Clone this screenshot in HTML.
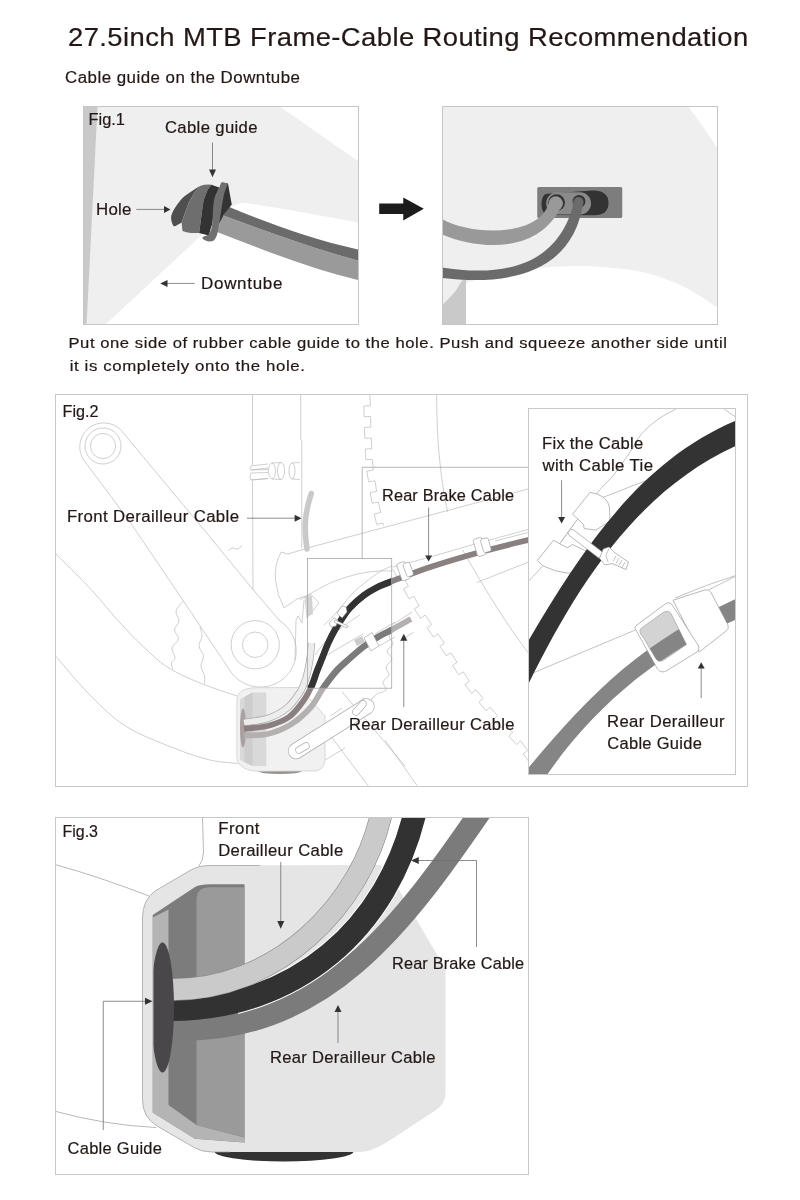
<!DOCTYPE html>
<html><head><meta charset="utf-8">
<style>
html,body{margin:0;padding:0;background:#fff;width:800px;height:1200px;overflow:hidden}
svg{display:block}
text{font-family:"Liberation Sans",sans-serif;fill:#231815;stroke:#231815;stroke-width:0.2px}
svg{will-change:transform}
</style></head><body>
<svg width="800" height="1200" viewBox="0 0 800 1200">

<text transform="translate(68,45.6) scale(1.0277,1)" font-size="26.7" textLength="661.86" lengthAdjust="spacing">27.5inch MTB Frame-Cable Routing Recommendation</text>
<text transform="translate(65,82.5) scale(1.0558,1)" font-size="16" textLength="222.57" lengthAdjust="spacing">Cable guide on the Downtube</text>
<rect x="84" y="107" width="274" height="217" fill="#efefef"/>
<path d="M84,107 L97.5,107 L86.6,324 L84,324 Z" fill="#c9c9c9"/>
<path d="M280.4,107 L358,107 L358,160.9 Z" fill="#fff"/>
<path d="M106,324 L232,207 Q238,202.5 246,203 L290,210 L358,222.5 L358,324 Z" fill="#fff"/>
<path d="M222.0,215.0 C267.1,231.8 311.3,248.3 358.0,260.5 L358.0,280.0 C309.3,268.4 263.5,250.0 217.0,232.0 Z" fill="#9a9a9a"/>
<path d="M228.0,206.5 C270.0,224.1 313.4,239.6 358.0,249.5 L358.0,260.5 C311.3,248.3 267.1,231.8 222.0,215.0 Z" fill="#6b6b6b"/>
<path d="M221,183 L228,183.4 Q230,195 231.8,204.5 L229,208 L224,214 L218,226 L212,228 Z" fill="#333"/>
<path d="M200.00,186.00 C198.68,186.82 195.02,188.92 192.10,190.90 C189.18,192.88 185.42,194.98 182.50,197.90 C179.58,200.82 176.50,205.20 174.60,208.40 C172.70,211.60 171.38,214.33 171.10,217.10 C170.82,219.87 172.17,223.53 172.90,225.00 C173.63,226.47 174.05,226.33 175.50,225.90 C176.95,225.47 180.58,222.98 181.60,222.40  L185.1,212.7 L188.6,203.1 L193.9,193.5 Z" fill="#4f4f4f"/>
<path d="M200,186 Q205,184.3 211.4,184.7 Q207,190 206.1,193.5 Q203,200 202.6,206.6 L200.9,219.7 L199.1,232.9 L191.2,232.9 Q186,232.5 182.5,231.1 L181.6,222.4 L185.1,212.7 L188.6,203.1 L193.9,193.5 Z" fill="#6e6e6e"/>
<path d="M211.4,184.7 L219.2,187.4 L215.7,197.9 L214,211 L212.2,224.1 L208.7,235.5 L199.1,232.9 L200.9,219.7 L202.6,206.6 Q203,200 206.1,193.5 Q207,190 211.4,184.7 Z" fill="#333"/>
<path d="M221.9,182.1 L228,183.4 Q226,188 224,194 L221.5,208 L219.5,222 Q218.5,229 217.5,233 Q216,239 213,241 Q209,242 205.5,240.5 Q202,239 202.5,237 Q205,236 208.5,234.75 Q211.5,231 212.25,225 L213,210 Q213.5,200 215.5,195 L219.2,187.4 Z" fill="#707070"/>
<path d="M212.5,142.5 L212.5,170" stroke="#6e6e6e" stroke-width="0.8" fill="none"/><path d="M209,169.6 L216,169.6 L212.5,177.2 Z" fill="#333"/>
<path d="M136.25,209.4 L165,209.4" stroke="#6e6e6e" stroke-width="0.8" fill="none"/><path d="M164,205.9 L164,212.9 L170.5,209.4 Z" fill="#333"/>
<path d="M194.6,283.4 L167,283.4" stroke="#6e6e6e" stroke-width="0.8" fill="none"/><path d="M167.5,279.9 L167.5,286.9 L160.2,283.4 Z" fill="#333"/>
<rect x="83.5" y="106.5" width="275" height="218" fill="none" stroke="#c6c6c6" stroke-width="1"/>
<text transform="translate(88.5,125.25) scale(0.9659,1)" font-size="17" textLength="37.79" lengthAdjust="spacing">Fig.1</text>
<text transform="translate(165,132.75) scale(1.0408,1)" font-size="16" textLength="88.88" lengthAdjust="spacing">Cable guide</text>
<text transform="translate(96,215.4) scale(1.0228,1)" font-size="16.5" textLength="34.71" lengthAdjust="spacing">Hole</text>
<text transform="translate(201,288.6) scale(1.0636,1)" font-size="16" textLength="76.63" lengthAdjust="spacing">Downtube</text>
<rect x="443" y="107" width="274" height="217" fill="#efefef"/>
<path d="M688.75,107 Q703,126 717,147.5 L717,107 Z" fill="#fff"/>
<path d="M466,324 L466,283 C470.00,281.83 481.21,278.00 490.00,276.00 C498.79,274.00 509.58,272.42 518.75,271.00 C527.92,269.58 534.79,268.35 545.00,267.50 C555.21,266.65 567.50,265.72 580.00,265.90 C592.50,266.08 608.33,267.25 620.00,268.60 C631.67,269.95 640.00,271.27 650.00,274.00 C660.00,276.73 671.67,281.33 680.00,285.00 C688.33,288.67 693.83,292.25 700.00,296.00 C706.17,299.75 713.33,305.00 717.00,307.50 C720.67,310.00 721.17,310.42 722.00,311.00 L722,324 Z" fill="#fff"/>
<path d="M443,304.25 Q452,296 457,289 Q460,283 463,279.75 L466,279.75 L466,324 L443,324 Z" fill="#c9c9c9"/>
<rect x="537.25" y="186.9" width="85" height="31.2" rx="1.5" fill="#7d7d7d"/>
<path d="M547,193.8 L592,190.4 Q608.5,190 608.5,203 Q608.5,215.2 594,215.2 L549,215 Q541.5,214.5 541.5,204 Q541.8,194.3 547,193.8 Z" fill="#333"/>
<rect x="546.2" y="192.2" width="44.8" height="22.3" rx="11" fill="#8a8a8a"/>
<circle cx="556.6" cy="202.6" r="8.4" fill="#333"/>
<circle cx="579" cy="201.4" r="6.4" fill="#333"/>
<path d="M574.0,202.0 C558.0,268.3 500.1,276.7 442.0,267.5 L442.0,278.0 C503.3,285.3 572.6,276.5 583.3,202.0 Z" fill="#6b6b6b"/>
<circle cx="578.4" cy="202.2" r="5.1" fill="#6b6b6b"/>
<path d="M549.0,203.0 C538.1,238.3 469.1,234.8 442.0,219.0 L442.0,234.5 C484.1,251.9 542.7,252.0 562.6,203.0 Z" fill="#999"/>
<circle cx="555.8" cy="203.4" r="7.1" fill="#999"/>
<rect x="442.5" y="106.5" width="275" height="218" fill="none" stroke="#c6c6c6" stroke-width="1"/>
<path d="M379.2,203.6 L403.25,203.6 L403.25,197.4 L423.8,208.8 L403.25,220.6 L403.25,214.1 L379.2,214.1 Z" fill="#1c1c1c"/>
<text transform="translate(68.5,348) scale(1.0728,1)" font-size="15.5" textLength="613.80" lengthAdjust="spacing">Put one side of rubber cable guide to the hole. Push and squeeze another side until</text>
<text transform="translate(69.7,370.6) scale(1.0850,1)" font-size="15.5" textLength="216.87" lengthAdjust="spacing">it is completely onto the hole.</text>
<clipPath id="c2"><rect x="56" y="395" width="472" height="391"/></clipPath>
<g clip-path="url(#c2)">
<path d="M121.3,430.5 L162,479.5 L210,537 L252.5,589 L280,621 A36,36 0 1 1 229,669 L183.3,600.75 L128.6,520 L84,460.5 A24,24 0 0 1 121.3,430.5 Z" fill="none" stroke="#bababa" stroke-width="0.7"/>
<circle cx="103" cy="446" r="18" fill="none" stroke="#bababa" stroke-width="0.7"/>
<circle cx="103" cy="446" r="12.6" fill="none" stroke="#bababa" stroke-width="0.7"/>
<circle cx="255.2" cy="644.75" r="24.15" fill="none" stroke="#bababa" stroke-width="0.7"/>
<circle cx="255.2" cy="644.75" r="12.75" fill="none" stroke="#bababa" stroke-width="0.7"/>
<path d="M252.5,395 L252.5,465 M252.5,481 L253,590" fill="none" stroke="#bababa" stroke-width="0.7"/>
<path d="M300.7,395 L300.7,440 L301.8,441 L301.8,548" fill="none" stroke="#bababa" stroke-width="0.7"/>
<path d="M251,466 Q249,468 251,470 L268,468 M251,473 Q249,477 251,480 L268,478.5" fill="none" stroke="#bababa" stroke-width="0.7"/>
<path d="M251,466 L268,464 M251,470 L268,469.5 M251,473 L268,472.5 M251,480 L268,478.5" fill="none" stroke="#bababa" stroke-width="0.7"/>
<ellipse cx="272" cy="471" rx="3.5" ry="8" fill="none" stroke="#bababa" stroke-width="0.7"/><ellipse cx="281" cy="471" rx="3.5" ry="8.5" fill="none" stroke="#bababa" stroke-width="0.7"/>
<path d="M272,463 L281,462.5 M272,479 L281,479.5" fill="none" stroke="#bababa" stroke-width="0.7"/>
<ellipse cx="292" cy="471" rx="3" ry="8" fill="none" stroke="#bababa" stroke-width="0.7"/><path d="M292,463 L300,462.5 M292,479 L300,479.5" fill="none" stroke="#bababa" stroke-width="0.7"/>
<path d="M55.00,553.00 C60.93,559.00 79.52,577.08 90.60,589.00 C101.68,600.92 111.60,613.83 121.50,624.50 C131.40,635.17 141.68,645.48 150.00,653.00 C158.32,660.52 162.68,664.45 171.40,669.60 C180.12,674.75 191.37,679.50 202.30,683.90 C213.23,688.30 231.22,693.98 237.00,696.00" fill="none" stroke="#bababa" stroke-width="0.7"/>
<path d="M55.00,655.40 C60.93,662.12 78.72,683.88 90.60,695.75 C102.48,707.62 112.43,717.89 126.30,726.60 C140.17,735.31 159.95,742.45 173.80,748.00 C187.65,753.55 198.70,757.32 209.40,759.90 C220.10,762.48 233.23,762.90 238.00,763.50" fill="none" stroke="#bababa" stroke-width="0.7"/>
<path d="M183.30,600.75 C182.08,602.46 176.72,607.62 176.00,611.00 C175.28,614.38 179.25,617.83 179.00,621.00 C178.75,624.17 174.58,627.00 174.50,630.00 C174.42,633.00 178.92,636.00 178.50,639.00 C178.08,642.00 172.58,644.83 172.00,648.00 C171.42,651.17 175.08,655.50 175.00,658.00 C174.92,660.50 171.90,661.07 171.50,663.00 C171.10,664.93 172.42,668.50 172.60,669.60" fill="none" stroke="#bababa" stroke-width="0.7"/>
<path d="M199.90,626.90 C200.25,628.42 202.15,632.82 202.00,636.00 C201.85,639.18 198.75,642.67 199.00,646.00 C199.25,649.33 203.17,652.67 203.50,656.00 C203.83,659.33 200.82,662.67 201.00,666.00 C201.18,669.33 204.00,673.02 204.60,676.00 C205.20,678.98 204.60,682.58 204.60,683.90" fill="none" stroke="#bababa" stroke-width="0.7"/>
<path d="M228.00,551.00 C228.67,550.50 230.33,548.33 232.00,548.00 C233.67,547.67 236.33,549.50 238.00,549.00 C239.67,548.50 241.33,545.67 242.00,545.00" fill="none" stroke="#bababa" stroke-width="0.7"/>
<path d="M311,547 L528,489" fill="none" stroke="#bababa" stroke-width="0.7"/>
<path d="M436.50,395.00 C436.75,402.50 437.08,425.83 438.00,440.00 C438.92,454.17 440.42,468.00 442.00,480.00 C443.58,492.00 446.58,506.67 447.50,512.00" fill="none" stroke="#bababa" stroke-width="0.7"/>
<path d="M462.50,549.70 C465.42,554.75 472.92,568.28 480.00,580.00 C487.08,591.72 496.67,607.43 505.00,620.00 C513.33,632.57 525.83,649.50 530.00,655.40" fill="none" stroke="#bababa" stroke-width="0.7"/>
<path d="M476.7,582.6 L530,561.4" fill="none" stroke="#bababa" stroke-width="0.7"/>
<path d="M311,547 L288,554 L281,552 Q274,565 275.5,580 Q277,595 284,608 L297,599 L311,594.5" fill="none" stroke="#bababa" stroke-width="0.7"/>
<path d="M295,660 L296,620 L298,616 L302,623 L304,600" fill="none" stroke="#bababa" stroke-width="0.7"/>
<path d="M305,597 L311,594.5 L319,603 L307,618 Z" fill="#fff" fill="none" stroke="#bababa" stroke-width="0.7"/>
<path d="M300.00,600.00 C302.50,598.50 309.17,594.17 315.00,591.00 C320.83,587.83 327.50,583.92 335.00,581.00 C342.50,578.08 352.50,575.17 360.00,573.50 C367.50,571.83 374.67,571.42 380.00,571.00 C385.33,570.58 390.00,571.00 392.00,571.00" fill="none" stroke="#bababa" stroke-width="0.7"/>
<path d="M324.00,625.00 C326.17,622.83 332.33,617.17 337.00,612.00 C341.67,606.83 347.00,599.17 352.00,594.00 C357.00,588.83 362.17,584.83 367.00,581.00 C371.83,577.17 376.83,573.50 381.00,571.00 C385.17,568.50 390.17,566.83 392.00,566.00" fill="none" stroke="#bababa" stroke-width="0.7"/>
<path d="M315.00,655.00 C317.00,652.50 322.00,645.00 327.00,640.00 C332.00,635.00 339.50,629.17 345.00,625.00 C350.50,620.83 357.50,616.67 360.00,615.00" fill="none" stroke="#bababa" stroke-width="0.7"/>
<path d="M327,655 L363,634 M375,634 L395,622 M379,646 L395,637" fill="none" stroke="#bababa" stroke-width="0.7"/>
<path d="M396.00,630.00 C394.83,631.00 389.50,633.67 389.00,636.00 C388.50,638.33 393.33,641.50 393.00,644.00 C392.67,646.50 387.17,648.50 387.00,651.00 C386.83,653.50 392.17,656.33 392.00,659.00 C391.83,661.67 386.50,664.33 386.00,667.00 C385.50,669.67 389.50,672.50 389.00,675.00 C388.50,677.50 383.50,679.50 383.00,682.00 C382.50,684.50 387.00,688.00 386.00,690.00 C385.00,692.00 379.67,692.33 377.00,694.00 C374.33,695.67 372.50,699.33 370.00,700.00 C367.50,700.67 363.33,698.33 362.00,698.00" fill="none" stroke="#bababa" stroke-width="0.7"/>
<path d="M370.0,395.0 L370.3,405.7 L363.8,405.9 L364.1,416.7 L370.6,416.5 L370.9,427.2 L364.4,427.4 L364.8,438.3 L371.3,438.0 L371.8,448.7 L365.3,449.0 L365.8,459.7 L372.3,459.5 L373.3,470.1 L366.9,471.1 L368.6,481.8 L375.0,480.8 L376.6,491.4 L370.2,492.4 L372.1,503.3 L378.4,502.0 L380.7,512.5 L374.3,513.9 L376.6,524.4 L383.0,523.0 L383.5,525.5" fill="none" stroke="#bababa" stroke-width="0.7"/>
<path d="M392.5,569.0 L398.1,578.9 L402.9,576.2 L408.4,586.2 L403.6,588.8 L409.0,598.8 L413.8,596.2 L419.2,606.1 L414.4,608.8 L420.6,618.3 L425.1,615.1 L431.6,624.5 L427.0,627.6 L433.4,637.0 L438.0,633.9 L444.4,643.2 L439.9,646.3 L446.2,655.8 L450.8,652.7 L457.0,662.3 L452.4,665.3 L458.6,674.8 L463.2,671.8 L469.4,681.3 L464.8,684.3 L471.6,693.3 L475.9,689.8 L483.1,698.6 L478.9,702.1 L486.1,710.8 L490.3,707.3 L497.5,715.7 L493.5,719.5 L501.1,727.8 L505.2,724.1 L512.8,732.5 L508.8,736.2 L516.5,744.6 L520.5,740.8 L527.6,750.5 L523.2,753.7 L529.8,762.9 L534.3,759.7 L539.4,766.8" fill="none" stroke="#bababa" stroke-width="0.7"/>
<path d="M326.25,730 L369,787 M342,691.75 L405,766 M385,740 L418,787" fill="none" stroke="#bababa" stroke-width="0.7"/>
<path d="M330,716.25 L342,708 M325,760 L345,748" fill="none" stroke="#bababa" stroke-width="0.7"/>
</g><g clip-path="url(#c2)">
<path d="M311.30,493.50 C310.75,495.42 308.97,500.58 308.00,505.00 C307.03,509.42 305.92,515.00 305.50,520.00 C305.08,525.00 305.25,530.17 305.50,535.00 C305.75,539.83 306.75,546.67 307.00,549.00" fill="none" stroke="#c9c9c9" stroke-width="5.6" stroke-linecap="round"/>
<path d="M306,597 L312,595.5 L313,614 L307,617 Z" fill="#d2d2d2"/>
<ellipse cx="280" cy="771.3" rx="21.5" ry="2.6" fill="#9a9090"/>
<path d="M236.9,757.5 L236.9,700 Q237,692 246,689 Q250,687.75 256,687.75 L300,687.5 L325,716 L325,760 Q324,770 315,771 L258,771.25 Q246,771 240,765 Q236.9,762 236.9,757.5 Z" fill="#f1f1f1" stroke="#c8c8c8" stroke-width="0.7"/>
<path d="M240,699 L252.5,692.5 L266.25,692.5 L266.25,766.25 L252.5,766 L240,760 Z" fill="#d9d9d9"/>
<path d="M244.4,697 L252.5,692.5 L252.5,766 L244.4,762 Z" fill="#cdcdcd"/>
<ellipse cx="243" cy="728" rx="3" ry="19.5" fill="#aaa0a0"/>
<path d="M244.00,722.50 C247.92,721.83 260.33,720.92 267.50,718.50 C274.67,716.08 281.58,712.42 287.00,708.00 C292.42,703.58 296.83,697.00 300.00,692.00 C303.17,687.00 304.42,683.00 306.00,678.00 C307.58,673.00 308.67,666.67 309.50,662.00 C310.33,657.33 310.67,653.17 311.00,650.00 C311.33,646.83 311.42,644.17 311.50,643.00" fill="none" stroke="#a9a9a9" stroke-width="7.2" />
<path d="M244.00,722.50 C247.92,721.83 260.33,720.92 267.50,718.50 C274.67,716.08 281.58,712.42 287.00,708.00 C292.42,703.58 296.83,697.00 300.00,692.00 C303.17,687.00 304.42,683.00 306.00,678.00 C307.58,673.00 308.67,666.67 309.50,662.00 C310.33,657.33 310.67,653.17 311.00,650.00 C311.33,646.83 311.42,644.17 311.50,643.00" fill="none" stroke="#ededed" stroke-width="5.8" />
<path d="M392.50,567.00 C398.75,565.33 416.25,560.83 430.00,557.00 C443.75,553.17 458.33,548.67 475.00,544.00 C491.67,539.33 520.83,531.50 530.00,529.00" fill="none" stroke="#bababa" stroke-width="0.7"/>
<path d="M495,541 L530,532" fill="none" stroke="#bababa" stroke-width="0.7"/>
<path d="M244.00,728.75 C247.92,728.29 260.00,727.96 267.50,726.00 C275.00,724.04 282.92,721.33 289.00,717.00 C295.08,712.67 300.25,705.13 304.00,700.00 C307.75,694.87 309.33,691.03 311.50,686.20 C313.67,681.37 315.17,675.82 317.00,671.00 C318.83,666.18 320.67,661.88 322.50,657.30 C324.33,652.72 325.93,648.08 328.00,643.50 C330.07,638.92 332.60,633.92 334.90,629.80 C337.20,625.68 339.28,622.47 341.80,618.80 C344.32,615.13 346.33,611.70 350.00,607.80 C353.67,603.90 359.22,598.85 363.80,595.40 C368.38,591.95 372.92,589.42 377.50,587.10 C382.08,584.78 387.72,582.93 391.30,581.50 C394.88,580.07 392.22,581.00 399.00,578.50 C405.78,576.00 418.67,570.83 432.00,566.50 C445.33,562.17 462.67,557.00 479.00,552.50 C495.33,548.00 521.50,541.67 530.00,539.50" fill="none" stroke="#8b8080" stroke-width="5.8" />
<path d="M392,625 L412,612 M400,641 L414,632" fill="none" stroke="#bababa" stroke-width="0.7"/>
<path d="M244.00,735.30 C247.92,735.08 259.67,735.82 267.50,734.00 C275.33,732.18 283.75,728.90 291.00,724.40 C298.25,719.90 305.75,712.90 311.00,707.00 C316.25,701.10 318.28,695.00 322.50,689.00 C326.72,683.00 331.72,676.13 336.30,671.00 C340.88,665.87 345.42,662.28 350.00,658.20 C354.58,654.12 359.22,650.00 363.80,646.50 C368.38,643.00 372.92,639.95 377.50,637.20 C382.08,634.45 385.72,633.03 391.30,630.00 C396.88,626.97 407.72,620.83 411.00,619.00" fill="none" stroke="#b5b0b0" stroke-width="5.8" />
<path d="M296,751 L366.5,706.5" stroke="#b0b0b0" stroke-width="16.4" stroke-linecap="round" fill="none"/>
<path d="M296,751 L366.5,706.5" stroke="#fff" stroke-width="15" stroke-linecap="round" fill="none"/>
<path d="M299,750 L306,746" stroke="#b0b0b0" stroke-width="7.4" stroke-linecap="round" fill="none"/><path d="M299,750 L306,746" stroke="#fff" stroke-width="6" stroke-linecap="round" fill="none"/>
<path d="M356,712 L363,704" stroke="#b0b0b0" stroke-width="7.4" stroke-linecap="round" fill="none"/><path d="M356,712 L363,704" stroke="#fff" stroke-width="6" stroke-linecap="round" fill="none"/>
<clipPath id="csr"><rect x="307.4" y="558.5" width="84.3" height="129.7"/></clipPath>
<g clip-path="url(#csr)">
<path d="M244.00,728.75 C247.92,728.29 260.00,727.96 267.50,726.00 C275.00,724.04 282.92,721.33 289.00,717.00 C295.08,712.67 300.25,705.13 304.00,700.00 C307.75,694.87 309.33,691.03 311.50,686.20 C313.67,681.37 315.17,675.82 317.00,671.00 C318.83,666.18 320.67,661.88 322.50,657.30 C324.33,652.72 325.93,648.08 328.00,643.50 C330.07,638.92 332.60,633.92 334.90,629.80 C337.20,625.68 339.28,622.47 341.80,618.80 C344.32,615.13 346.33,611.70 350.00,607.80 C353.67,603.90 359.22,598.85 363.80,595.40 C368.38,591.95 372.92,589.42 377.50,587.10 C382.08,584.78 387.72,582.93 391.30,581.50 C394.88,580.07 392.22,581.00 399.00,578.50 C405.78,576.00 418.67,570.83 432.00,566.50 C445.33,562.17 462.67,557.00 479.00,552.50 C495.33,548.00 521.50,541.67 530.00,539.50" fill="none" stroke="#333" stroke-width="6.6" />
<path d="M244.00,735.30 C247.92,735.08 259.67,735.82 267.50,734.00 C275.33,732.18 283.75,728.90 291.00,724.40 C298.25,719.90 305.75,712.90 311.00,707.00 C316.25,701.10 318.28,695.00 322.50,689.00 C326.72,683.00 331.72,676.13 336.30,671.00 C340.88,665.87 345.42,662.28 350.00,658.20 C354.58,654.12 359.22,650.00 363.80,646.50 C368.38,643.00 372.92,639.95 377.50,637.20 C382.08,634.45 385.72,633.03 391.30,630.00 C396.88,626.97 407.72,620.83 411.00,619.00" fill="none" stroke="#7b7b7b" stroke-width="6.4" />
</g>
<path d="M337,613 L342,606 L346,607 L347,612 L342,618 Z" fill="#fff" stroke="#9a9a9a" stroke-width="0.6"/>
<path d="M329,623 L334,618 L338,620 L336,626 L331,627 Z" fill="#fff" stroke="#9a9a9a" stroke-width="0.6"/>
<path d="M335,620 L348,626 L347,628 L334,622 Z" fill="#fff" stroke="#9a9a9a" stroke-width="0.6"/>
<path d="M364,638 L372,632.5 L379,646 L371,651 Z" fill="#fff" stroke="#9a9a9a" stroke-width="0.6"/>
<path d="M354,640 L362,636 L365,642 L357,646 Z" fill="#ccc"/>
<g transform="rotate(-20 404 571)"><rect x="399" y="562" width="9" height="18" rx="2" fill="#fff" stroke="#9a9a9a" stroke-width="0.6"/><rect x="405" y="564" width="7" height="14" rx="2" fill="#fff" stroke="#9a9a9a" stroke-width="0.6"/></g>
<g transform="rotate(-16 483 546)"><rect x="475" y="537" width="9" height="18" rx="2" fill="#fff" stroke="#9a9a9a" stroke-width="0.6"/><rect x="482" y="539" width="8" height="14" rx="2" fill="#fff" stroke="#9a9a9a" stroke-width="0.6"/></g>
<path d="M528,467.3 L362.2,467.3 L362.2,558.5" fill="none" stroke="#a6a6a6" stroke-width="0.8"/>
<rect x="307.4" y="558.5" width="84.3" height="129.7" fill="none" stroke="#a6a6a6" stroke-width="0.8"/>
<path d="M247,518.2 L296,518.2" stroke="#6e6e6e" stroke-width="0.8" fill="none"/><path d="M294.6,514.7 L294.6,521.7 L301.5,518.2 Z" fill="#333"/>
<path d="M428.6,507.5 L428.6,556" stroke="#6e6e6e" stroke-width="0.8" fill="none"/><path d="M425.1,555.5 L432.1,555.5 L428.6,561.4 Z" fill="#333"/>
<path d="M403.8,707 L403.8,640" stroke="#6e6e6e" stroke-width="0.8" fill="none"/><path d="M400.3,640.8 L407.3,640.8 L403.8,633.8 Z" fill="#333"/>
</g>
<rect x="55.5" y="394.5" width="692" height="392" fill="none" stroke="#c8c8c8" stroke-width="1"/>
<clipPath id="ci"><rect x="529" y="409" width="206" height="365"/></clipPath>
<rect x="529" y="409" width="206" height="365" fill="#fff"/>
<g clip-path="url(#ci)">
<path d="M684.00,404.00 C682.83,404.72 681.40,405.70 677.00,408.30 C672.60,410.90 663.55,415.27 657.60,419.60 C651.65,423.93 645.90,428.87 641.30,434.30 C636.70,439.73 634.60,445.43 630.00,452.20 C625.40,458.97 619.13,468.13 613.70,474.90 C608.27,481.67 604.68,483.62 597.40,492.80 C590.12,501.98 579.28,517.67 570.00,530.00 C560.72,542.33 548.37,558.53 541.70,566.80 C535.03,575.07 533.62,575.73 530.00,579.60 C526.38,583.47 521.67,588.27 520.00,590.00" fill="none" stroke="#a8a8a8" stroke-width="0.7"/>
<path d="M720,406 Q728,412 740,420" fill="none" stroke="#a8a8a8" stroke-width="0.7"/>
<path d="M675,598 Q705,585 740,574" fill="none" stroke="#a8a8a8" stroke-width="0.7"/>
<path d="M635.6,629.9 L528,675" fill="none" stroke="#a8a8a8" stroke-width="0.7"/>
<path d="M709,589.75 L740,574" fill="none" stroke="#a8a8a8" stroke-width="0.7"/>
<path d="M602.3,497.7 L655,477" fill="none" stroke="#a8a8a8" stroke-width="0.7"/>
<path d="M560.8,542.4 L576.8,520 L595,530 L580,552 Z" fill="#fff"/>
<path d="M560.8,542.4 L576.8,520" fill="none" stroke="#9a9a9a" stroke-width="0.7"/>
<path d="M590,492.4 Q598,493.5 603,497 Q609,501.5 609.5,509 L610,521 L596,530 L584.2,528.6 Q584.8,524 580,521 L572.5,514.2 Z" fill="#fff" stroke="#9a9a9a" stroke-width="0.7"/>
<path d="M537.4,560.5 L553.4,540.3 L567.2,547.7 L572.5,544.5 L588,552 L580,570 Q574,573.5 568.3,573.2 Q555.5,572.1 542.8,565.8 Z" fill="#fff" stroke="#9a9a9a" stroke-width="0.7"/>
<path d="M740.0,419.0 C634.7,461.1 574.6,561.9 520.0,655.0 L522.0,697.0 C571.1,595.9 632.4,491.0 740.0,444.0 Z" fill="#333"/>
<path d="M570.4,529.6 Q566.5,532 569.3,535.5 L599.1,558.3 L603.3,552.8 L573.5,529.8 Q572,529 570.4,529.6 Z" fill="#fff" stroke="#9a9a9a" stroke-width="0.7"/>
<path d="M603.3,549 L609,547 L615,553 L628.5,562 L626,569.5 L612,563.5 L605,565 L599.5,558.3 Z" fill="#fff" stroke="#9a9a9a" stroke-width="0.7"/>
<path d="M616,556 L613,561.5 M619,558 L616,563.5 M622,560 L619,565.5 M625,562 L622,567.5 M609,548.5 L606,555 L608,562" fill="none" stroke="#9a9a9a" stroke-width="0.6"/>
<path d="M520.0,778.0 C588.3,695.0 640.8,641.8 740.0,597.0 L740.0,618.0 C656.6,651.9 585.1,714.1 537.0,790.0 Z" fill="#858585"/>
<path d="M673,600.25 L705,589.9 Q709,588.8 711,592.5 L728,625 Q729.5,629 725.5,631.5 L699.25,652 Z" fill="#fff" stroke="#9a9a9a" stroke-width="0.7"/>
<path d="M636.5,631 Q633,627.5 637.5,624.5 L664.5,604.5 Q670,600.5 672.5,605.5 L698,645 Q700.5,650 696,652.5 L667,670.5 Q661.5,674 657.5,669 Z" fill="#fff" stroke="#9a9a9a" stroke-width="0.7"/>
<clipPath id="cw"><path d="M641,628.5 L663,612.5 Q668,609.5 671,613.5 L686.5,644.5 L664,660 Q659,663 656,659 L643,637 Q638,631.5 641,628.5 Z"/></clipPath>
<path d="M641,628.5 L663,612.5 Q668,609.5 671,613.5 L686.5,644.5 L664,660 Q659,663 656,659 L643,637 Q638,631.5 641,628.5 Z" fill="#d3d3d3"/>
<path d="M520.0,778.0 C588.3,695.0 640.8,641.8 740.0,597.0 L740.0,618.0 C656.6,651.9 585.1,714.1 537.0,790.0 Z" fill="#858585" clip-path="url(#cw)"/>
<path d="M641,628.5 L663,612.5 Q668,609.5 671,613.5 L686.5,644.5 L664,660 Q659,663 656,659 L643,637 Q638,631.5 641,628.5 Z" fill="none" stroke="#9a9a9a" stroke-width="0.6"/>
<path d="M561.6,480.2 L561.6,518" stroke="#6e6e6e" stroke-width="0.8" fill="none"/><path d="M558.1,517 L565.1,517 L561.6,523.5 Z" fill="#333"/>
<path d="M701.2,698.1 L701.2,668" stroke="#6e6e6e" stroke-width="0.8" fill="none"/><path d="M697.7,668.5 L704.7,668.5 L701.2,662.2 Z" fill="#333"/>
</g>
<rect x="528.5" y="408.5" width="207" height="366" fill="none" stroke="#c8c8c8" stroke-width="1"/>
<text transform="translate(62.5,417.25) scale(0.9526,1)" font-size="17" textLength="37.79" lengthAdjust="spacing">Fig.2</text>
<text transform="translate(67,521.6) scale(1.0484,1)" font-size="16" textLength="164.07" lengthAdjust="spacing">Front Derailleur Cable</text>
<text transform="translate(382,500.6) scale(1.0188,1)" font-size="16" textLength="129.56" lengthAdjust="spacing">Rear Brake Cable</text>
<text transform="translate(542,448.6) scale(1.0362,1)" font-size="16" textLength="97.67" lengthAdjust="spacing">Fix the Cable</text>
<text transform="translate(542.5,471) scale(1.0486,1)" font-size="16" textLength="105.37" lengthAdjust="spacing">with Cable Tie</text>
<text transform="translate(349,729.5) scale(1.0372,1)" font-size="16" textLength="159.56" lengthAdjust="spacing">Rear Derailleur Cable</text>
<text transform="translate(607,726.5) scale(1.0451,1)" font-size="16" textLength="112.43" lengthAdjust="spacing">Rear Derailleur</text>
<text transform="translate(607.3,749.2) scale(1.0308,1)" font-size="16" textLength="91.68" lengthAdjust="spacing">Cable Guide</text>
<clipPath id="c3"><rect x="56" y="818" width="472" height="355.5"/></clipPath>
<g clip-path="url(#c3)">
<path d="M55,864.5 Q100,877 149,896" fill="none" stroke="#9a9a9a" stroke-width="0.7"/>
<path d="M202.5,817 L203.5,852 Q203.5,860 199,866" fill="none" stroke="#9a9a9a" stroke-width="0.7"/>
<path d="M55,1111.25 Q105,1125 156,1127.5" fill="none" stroke="#9a9a9a" stroke-width="0.7"/>
<ellipse cx="284" cy="1151.5" rx="69.5" ry="10" fill="#333"/>
<path d="M142.5,1100 L142.5,918 Q142.5,900 155,891 L190,870.5 Q198,865.5 210,865.5 L379,865 Q384,865 387,869.5 L445.5,969 L445.5,1092 Q445.6,1104 436,1110 L392,1139 Q372,1152 360,1152 L212,1152 Q202,1152 195,1148 L157,1126 Q142.5,1117 142.5,1100 Z" fill="#e5e5e5"/>
<path d="M260,865.5 L210,865.5 Q198,865.5 190,870.5 L155,891 Q142.5,900 142.5,918 L142.5,1100 Q142.5,1117 157,1126 L195,1148 Q202,1152 212,1152 L230,1152" fill="none" stroke="#9a9a9a" stroke-width="0.7"/>
<path d="M152.75,915 L195,887 Q200,884.3 210,884.3 L244.5,884.3 L244.5,1142.5 L195,1138.75 L152.75,1112.5 Z" fill="#7c7c7c"/>
<path d="M152.75,917.5 L168.5,909.5 L168.5,1105 L196.5,1125 L244.5,1137.5 L244.5,1142.5 L195,1138.75 L152.75,1112.5 Z" fill="#b4b4b4"/>
<path d="M196.5,900 Q196.5,887.3 210,887.3 L244.5,887.3 L244.5,1137.5 L196.5,1125 Z" fill="#9a9a9a"/>
<path d="M170,1029.5 C323.4,1037.2 405.9,920.2 483,808" fill="none" stroke="#7b7b7b" stroke-width="22"/>
<clipPath id="c3w"><rect x="238" y="810" width="300" height="300"/></clipPath>
<path d="M170,1009.5 C294.8,1009.7 389,928.9 416,808" fill="none" stroke="#fff" stroke-width="25" clip-path="url(#c3w)"/>
<path d="M170,1009.5 C294.8,1009.7 389,928.9 416,808" fill="none" stroke="#323232" stroke-width="23"/>
<path d="M170,989.5 C274,991.5 363.3,907 382.5,808" fill="none" stroke="#8a8a8a" stroke-width="22.4"/>
<path d="M170,989.5 C274,991.5 363.3,907 382.5,808" fill="none" stroke="#cacaca" stroke-width="21.2"/>
<clipPath id="c3e"><rect x="153.5" y="900" width="40" height="200"/></clipPath>
<ellipse cx="162.5" cy="1007.5" rx="11.5" ry="65" fill="#4a474a" clip-path="url(#c3e)"/>
<path d="M280.75,862 L280.75,922" stroke="#6e6e6e" stroke-width="0.8" fill="none"/><path d="M277.2,921 L284.3,921 L280.75,928.75 Z" fill="#333"/>
<path d="M476.5,947 L476.5,860.5 L417,860.5" stroke="#6e6e6e" stroke-width="0.8" fill="none"/><path d="M418.75,857 L418.75,864 L411,860.5 Z" fill="#333"/>
<path d="M338,1043 L338,1011" stroke="#6e6e6e" stroke-width="0.8" fill="none"/><path d="M334.5,1012 L341.5,1012 L338,1005 Z" fill="#333"/>
<path d="M103.25,1130 L103.25,1001.25 L146,1001.25" stroke="#6e6e6e" stroke-width="0.8" fill="none"/><path d="M145,997.75 L145,1004.75 L152.5,1001.25 Z" fill="#333"/>
</g>
<rect x="55.5" y="817.5" width="473" height="357" fill="none" stroke="#c8c8c8" stroke-width="1"/>
<text transform="translate(62.5,837.2) scale(0.9394,1)" font-size="17" textLength="37.79" lengthAdjust="spacing">Fig.3</text>
<text transform="translate(218.2,833.8) scale(1.0517,1)" font-size="16" textLength="39.27" lengthAdjust="spacing">Front</text>
<text transform="translate(218.2,856.3) scale(1.0439,1)" font-size="16" textLength="119.75" lengthAdjust="spacing">Derailleur Cable</text>
<text transform="translate(392,968.8) scale(1.0188,1)" font-size="16" textLength="129.56" lengthAdjust="spacing">Rear Brake Cable</text>
<text transform="translate(270,1063) scale(1.0372,1)" font-size="16" textLength="159.56" lengthAdjust="spacing">Rear Derailleur Cable</text>
<text transform="translate(67.5,1153.5) scale(1.0308,1)" font-size="16" textLength="91.68" lengthAdjust="spacing">Cable Guide</text>
</svg>
</body></html>
